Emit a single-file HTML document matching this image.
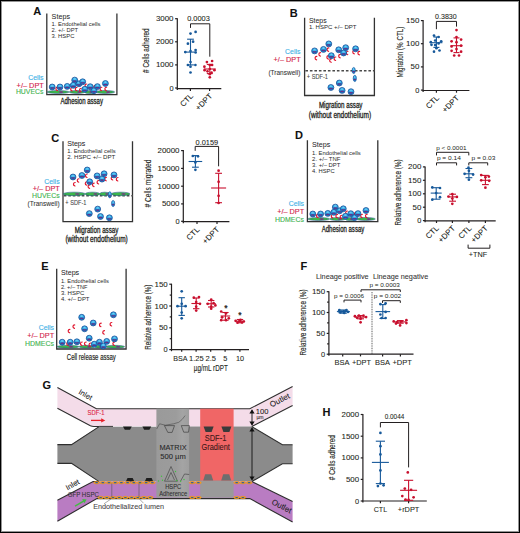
<!DOCTYPE html>
<html><head><meta charset="utf-8"><style>
html,body{margin:0;padding:0;background:#fff;}
body{width:520px;height:533px;position:relative;overflow:hidden;font-family:"Liberation Sans", sans-serif;}
svg text{font-family:"Liberation Sans", sans-serif;}
</style></head><body>
<div style="position:absolute;left:0;top:0;width:520px;height:533px;box-sizing:border-box;border:1px solid #000;z-index:5;pointer-events:none"></div>
<div style="position:absolute;left:1px;top:1px;width:518px;height:531px;box-sizing:border-box;border:1px solid rgba(0,0,0,0.42);z-index:5;pointer-events:none"></div>
<svg width="520" height="533" viewBox="0 0 520 533" style="position:absolute;left:0;top:0" font-family='"Liberation Sans", sans-serif'>
<defs>
<radialGradient id="cg" cx="0.5" cy="0.3" r="0.75">
<stop offset="0" stop-color="#74d2f6"/><stop offset="0.45" stop-color="#2aaae8"/><stop offset="1" stop-color="#1f92d8"/>
</radialGradient>
<g id="cell">
<circle r="2.95" fill="url(#cg)" stroke="#1b4a94" stroke-width="0.75"/>
<path d="M-1.95,0.7 Q0,0.0 1.95,0.7 Q1.7,1.75 0,1.8 Q-1.7,1.75 -1.95,0.7 Z" fill="#8a2a8c" stroke="#1e2c7c" stroke-width="0.4"/>
</g>
<path id="dpt" d="M1.2,-1.7 C-0.9,-1.7 -1.3,1.2 1.0,1.8" fill="none" stroke="#e0142c" stroke-width="1.15" stroke-linecap="round"/>
<linearGradient id="mg" x1="0" y1="0" x2="1" y2="0">
<stop offset="0" stop-color="#9a9a9a"/><stop offset="0.6" stop-color="#9c9c9c"/><stop offset="0.8" stop-color="#a4a4a4"/><stop offset="1" stop-color="#9e9e9e"/>
</linearGradient>
<linearGradient id="redg" x1="0" y1="0" x2="1" y2="0">
<stop offset="0" stop-color="#ef5a5a"/><stop offset="1" stop-color="#f06464"/>
</linearGradient>
</defs>
<rect x="0" y="0" width="520" height="533" fill="#fff"/>
<text x="33.30" y="15.00" font-size="11" fill="#111" font-weight="bold" style="stroke:#111;stroke-width:0.07">A</text>
<path d="M46.80,13.50 L46.80,94.60 L116.90,94.60 L116.90,13.50" fill="none" stroke="#333" stroke-width="1.3" stroke-linejoin="miter"/>
<text x="51.60" y="19.30" font-size="6.9" fill="#2a2a2a" textLength="18.4" lengthAdjust="spacingAndGlyphs" style="stroke:#2a2a2a;stroke-width:0.04">Steps</text>
<text x="51.60" y="26.00" font-size="6.1" fill="#2a2a2a" textLength="48.9" lengthAdjust="spacingAndGlyphs" style="stroke:none">1. Endothelial cells</text>
<text x="51.60" y="32.10" font-size="6.1" fill="#2a2a2a" textLength="26.5" lengthAdjust="spacingAndGlyphs" style="stroke:none">2. +/- DPT</text>
<text x="51.60" y="38.30" font-size="6.1" fill="#2a2a2a" textLength="22.8" lengthAdjust="spacingAndGlyphs" style="stroke:none">3. HSPC</text>
<text x="43.50" y="80.00" font-size="7.0" fill="#3cb0e6" text-anchor="end" textLength="15.3" lengthAdjust="spacingAndGlyphs" style="stroke:#3cb0e6;stroke-width:0.12">Cells</text>
<text x="43.80" y="87.50" font-size="7.0" fill="#d2234a" text-anchor="end" textLength="27.2" lengthAdjust="spacingAndGlyphs" style="stroke:#d2234a;stroke-width:0.12">+/– DPT</text>
<text x="43.50" y="94.30" font-size="7.0" fill="#3fb34f" text-anchor="end" textLength="27.6" lengthAdjust="spacingAndGlyphs" style="stroke:#3fb34f;stroke-width:0.12">HUVECs</text>
<ellipse cx="58.10" cy="92.00" rx="11.00" ry="1.55" fill="#3cb84a" stroke="#1e4a8a" stroke-width="0.5"/>
<ellipse cx="77.00" cy="92.00" rx="7.80" ry="1.55" fill="#3cb84a" stroke="#1e4a8a" stroke-width="0.5"/>
<ellipse cx="90.00" cy="92.00" rx="5.40" ry="1.55" fill="#3cb84a" stroke="#1e4a8a" stroke-width="0.5"/>
<ellipse cx="105.10" cy="92.00" rx="9.60" ry="1.55" fill="#3cb84a" stroke="#1e4a8a" stroke-width="0.5"/>
<ellipse cx="61.10" cy="92.10" rx="2.40" ry="0.78" fill="#7a2c8a"/>
<ellipse cx="79.20" cy="92.10" rx="2.00" ry="0.78" fill="#7a2c8a"/>
<ellipse cx="90.80" cy="92.10" rx="1.60" ry="0.78" fill="#7a2c8a"/>
<ellipse cx="108.10" cy="92.10" rx="2.30" ry="0.78" fill="#7a2c8a"/>
<use href="#dpt" transform="translate(56.40 88.80) rotate(0)"/>
<use href="#dpt" transform="translate(71.20 89.20) rotate(0)"/>
<use href="#dpt" transform="translate(75.80 89.00) rotate(0)"/>
<use href="#dpt" transform="translate(80.10 89.90) rotate(0)"/>
<use href="#dpt" transform="translate(85.60 85.70) rotate(0)"/>
<use href="#dpt" transform="translate(94.30 87.00) rotate(0)"/>
<use href="#dpt" transform="translate(100.60 88.90) rotate(0)"/>
<use href="#dpt" transform="translate(105.40 88.90) rotate(0)"/>
<use href="#cell" x="52.20" y="87.00"/>
<use href="#cell" x="60.00" y="87.00"/>
<use href="#cell" x="67.20" y="86.40"/>
<use href="#cell" x="74.70" y="80.10"/>
<use href="#cell" x="73.20" y="85.30"/>
<use href="#cell" x="79.00" y="83.80"/>
<use href="#cell" x="82.70" y="81.80"/>
<use href="#cell" x="84.80" y="89.30"/>
<use href="#cell" x="90.20" y="86.70"/>
<use href="#cell" x="94.00" y="90.70"/>
<use href="#cell" x="97.40" y="86.60"/>
<use href="#cell" x="105.40" y="83.50"/>
<text x="81.70" y="104.40" font-size="8.2" fill="#231f20" text-anchor="middle" textLength="42.5" lengthAdjust="spacingAndGlyphs" style="stroke:#231f20;stroke-width:0.3">Adhesion assay</text>
<line x1="177.30" y1="18.20" x2="177.30" y2="90.00" stroke="#231f20" stroke-width="1.2"/>
<line x1="175.10" y1="18.70" x2="177.30" y2="18.70" stroke="#231f20" stroke-width="1.2"/>
<text x="173.50" y="21.20" font-size="7.4" fill="#231f20" text-anchor="end" textLength="17.6" lengthAdjust="spacingAndGlyphs" style="stroke:#231f20;stroke-width:0.07">3000</text>
<line x1="175.10" y1="41.80" x2="177.30" y2="41.80" stroke="#231f20" stroke-width="1.2"/>
<text x="173.50" y="44.30" font-size="7.4" fill="#231f20" text-anchor="end" textLength="17.6" lengthAdjust="spacingAndGlyphs" style="stroke:#231f20;stroke-width:0.07">2000</text>
<line x1="175.10" y1="64.90" x2="177.30" y2="64.90" stroke="#231f20" stroke-width="1.2"/>
<text x="173.50" y="67.40" font-size="7.4" fill="#231f20" text-anchor="end" textLength="17.6" lengthAdjust="spacingAndGlyphs" style="stroke:#231f20;stroke-width:0.07">1000</text>
<line x1="175.10" y1="88.00" x2="177.30" y2="88.00" stroke="#231f20" stroke-width="1.2"/>
<text x="173.50" y="90.50" font-size="7.4" fill="#231f20" text-anchor="end" style="stroke:#231f20;stroke-width:0.07">0</text>
<line x1="176.80" y1="88.70" x2="221.30" y2="88.70" stroke="#231f20" stroke-width="1.2"/>
<line x1="190.40" y1="88.70" x2="190.40" y2="90.90" stroke="#231f20" stroke-width="1.2"/>
<line x1="209.60" y1="88.70" x2="209.60" y2="90.90" stroke="#231f20" stroke-width="1.2"/>
<path d="M190.50,27.90 L190.50,23.80 L209.80,23.80 L209.80,56.70" fill="none" stroke="#231f20" stroke-width="1.0" />
<text x="198.50" y="21.30" font-size="6.6" fill="#231f20" text-anchor="middle" textLength="22.6" lengthAdjust="spacingAndGlyphs" style="stroke:#231f20;stroke-width:0.07">0.0003</text>
<line x1="190.50" y1="39.20" x2="190.50" y2="64.90" stroke="#17599a" stroke-width="1.1"/>
<line x1="187.10" y1="39.20" x2="193.90" y2="39.20" stroke="#17599a" stroke-width="1.1"/>
<line x1="187.10" y1="64.90" x2="193.90" y2="64.90" stroke="#17599a" stroke-width="1.1"/>
<line x1="184.30" y1="52.10" x2="196.70" y2="52.10" stroke="#17599a" stroke-width="1.1"/>
<circle cx="190.50" cy="33.60" r="1.35" fill="#17599a"/>
<circle cx="195.60" cy="31.90" r="1.35" fill="#17599a"/>
<circle cx="187.90" cy="43.70" r="1.35" fill="#17599a"/>
<circle cx="193.10" cy="41.70" r="1.35" fill="#17599a"/>
<circle cx="185.30" cy="52.10" r="1.35" fill="#17599a"/>
<circle cx="190.50" cy="51.00" r="1.35" fill="#17599a"/>
<circle cx="195.60" cy="50.00" r="1.35" fill="#17599a"/>
<circle cx="195.60" cy="52.50" r="1.35" fill="#17599a"/>
<circle cx="190.50" cy="62.10" r="1.35" fill="#17599a"/>
<circle cx="187.90" cy="65.00" r="1.35" fill="#17599a"/>
<circle cx="195.40" cy="65.00" r="1.35" fill="#17599a"/>
<circle cx="190.50" cy="66.70" r="1.35" fill="#17599a"/>
<circle cx="190.50" cy="72.50" r="1.35" fill="#17599a"/>
<line x1="209.80" y1="64.40" x2="209.80" y2="73.60" stroke="#c8102e" stroke-width="1.1"/>
<line x1="206.80" y1="64.40" x2="212.80" y2="64.40" stroke="#c8102e" stroke-width="1.1"/>
<line x1="206.80" y1="73.60" x2="212.80" y2="73.60" stroke="#c8102e" stroke-width="1.1"/>
<line x1="203.80" y1="69.00" x2="215.80" y2="69.00" stroke="#c8102e" stroke-width="1.1"/>
<circle cx="206.90" cy="62.10" r="1.35" fill="#c8102e"/>
<circle cx="212.10" cy="61.00" r="1.35" fill="#c8102e"/>
<circle cx="209.80" cy="65.00" r="1.35" fill="#c8102e"/>
<circle cx="204.40" cy="66.70" r="1.35" fill="#c8102e"/>
<circle cx="212.10" cy="65.00" r="1.35" fill="#c8102e"/>
<circle cx="209.80" cy="69.00" r="1.35" fill="#c8102e"/>
<circle cx="204.60" cy="70.20" r="1.35" fill="#c8102e"/>
<circle cx="214.40" cy="70.20" r="1.35" fill="#c8102e"/>
<circle cx="207.50" cy="71.30" r="1.35" fill="#c8102e"/>
<circle cx="211.50" cy="72.50" r="1.35" fill="#c8102e"/>
<circle cx="209.80" cy="74.20" r="1.35" fill="#c8102e"/>
<circle cx="209.80" cy="77.30" r="1.35" fill="#c8102e"/>
<text x="149.30" y="50.65" font-size="8.6" fill="#231f20" text-anchor="middle" textLength="44.5" lengthAdjust="spacingAndGlyphs" transform="rotate(-90 149.30 50.65)" style="stroke:#231f20;stroke-width:0.12"># Cells adhered</text>
<text x="193.70" y="96.70" font-size="7.9" fill="#231f20" text-anchor="end" transform="rotate(-45 193.70 96.70)" style="stroke:#231f20;stroke-width:0.07">CTL</text>
<text x="212.90" y="96.70" font-size="7.9" fill="#231f20" text-anchor="end" transform="rotate(-45 212.90 96.70)" style="stroke:#231f20;stroke-width:0.07">+DPT</text>
<text x="289.80" y="16.60" font-size="11" fill="#111" font-weight="bold" style="stroke:#111;stroke-width:0.07">B</text>
<path d="M304.60,17.70 L304.60,95.50 L374.40,95.50 L374.40,17.70" fill="none" stroke="#333" stroke-width="1.3" stroke-linejoin="miter"/>
<text x="308.90" y="22.70" font-size="6.9" fill="#2a2a2a" textLength="17.7" lengthAdjust="spacingAndGlyphs" style="stroke:#2a2a2a;stroke-width:0.04">Steps</text>
<text x="308.90" y="29.30" font-size="6.1" fill="#2a2a2a" textLength="47.6" lengthAdjust="spacingAndGlyphs" style="stroke:none">1. HSPC +/– DPT</text>
<line x1="305.40" y1="70.80" x2="374.60" y2="70.80" stroke="#4a4a4a" stroke-width="1.45" stroke-dasharray="2.6 1.9"/>
<use href="#dpt" transform="translate(319.40 54.30) rotate(0)"/>
<use href="#dpt" transform="translate(315.60 58.10) rotate(0)"/>
<use href="#dpt" transform="translate(327.60 49.60) rotate(0)"/>
<use href="#dpt" transform="translate(330.20 60.50) rotate(0)"/>
<use href="#dpt" transform="translate(334.60 58.70) rotate(0)"/>
<use href="#dpt" transform="translate(339.20 56.10) rotate(0)"/>
<use href="#dpt" transform="translate(346.80 52.90) rotate(0)"/>
<use href="#dpt" transform="translate(353.30 52.10) rotate(0)"/>
<use href="#dpt" transform="translate(358.40 53.10) rotate(0)"/>
<use href="#dpt" transform="translate(327.40 57.30) rotate(0)"/>
<use href="#cell" x="314.60" y="50.90"/>
<use href="#cell" x="323.50" y="49.40"/>
<use href="#cell" x="328.80" y="43.90"/>
<use href="#cell" x="331.30" y="55.70"/>
<use href="#cell" x="338.70" y="49.80"/>
<use href="#cell" x="345.70" y="47.70"/>
<use href="#cell" x="343.60" y="53.00"/>
<use href="#cell" x="355.60" y="48.80"/>
<use href="#cell" x="330.90" y="87.50"/>
<use href="#cell" x="339.30" y="83.00"/>
<use href="#cell" x="342.10" y="90.40"/>
<use href="#cell" x="351.00" y="91.70"/>
<g transform="translate(353.70 70.50) scale(0.55 1.05)"><use href="#cell"/></g>
<g transform="translate(354.80 78.40) scale(0.55 1.05)"><use href="#cell"/></g>
<text x="300.40" y="54.00" font-size="7.0" fill="#3cb0e6" text-anchor="end" textLength="15.3" lengthAdjust="spacingAndGlyphs" style="stroke:#3cb0e6;stroke-width:0.12">Cells</text>
<text x="300.60" y="62.00" font-size="7.0" fill="#d2234a" text-anchor="end" textLength="27.0" lengthAdjust="spacingAndGlyphs" style="stroke:#d2234a;stroke-width:0.12">+/– DPT</text>
<text x="300.40" y="74.80" font-size="7.2" fill="#333" text-anchor="end" textLength="32" lengthAdjust="spacingAndGlyphs" style="stroke:#333;stroke-width:0.07">(Transwell)</text>
<text x="306.80" y="78.50" font-size="6.3" fill="#444" textLength="21.2" lengthAdjust="spacingAndGlyphs" style="stroke:#444;stroke-width:0.07">+ SDF-1</text>
<text x="340.70" y="108.40" font-size="8.2" fill="#231f20" text-anchor="middle" textLength="43.6" lengthAdjust="spacingAndGlyphs" style="stroke:#231f20;stroke-width:0.3">Migration assay</text>
<text x="339.90" y="118.00" font-size="8.2" fill="#231f20" text-anchor="middle" textLength="62.3" lengthAdjust="spacingAndGlyphs" style="stroke:#231f20;stroke-width:0.3">(without endothelium)</text>
<line x1="423.10" y1="20.10" x2="423.10" y2="92.10" stroke="#231f20" stroke-width="1.2"/>
<line x1="420.90" y1="20.60" x2="423.10" y2="20.60" stroke="#231f20" stroke-width="1.2"/>
<text x="419.30" y="23.10" font-size="7.4" fill="#231f20" text-anchor="end" textLength="13.2" lengthAdjust="spacingAndGlyphs" style="stroke:#231f20;stroke-width:0.07">150</text>
<line x1="420.90" y1="43.70" x2="423.10" y2="43.70" stroke="#231f20" stroke-width="1.2"/>
<text x="419.30" y="46.20" font-size="7.4" fill="#231f20" text-anchor="end" textLength="13.2" lengthAdjust="spacingAndGlyphs" style="stroke:#231f20;stroke-width:0.07">100</text>
<line x1="420.90" y1="66.90" x2="423.10" y2="66.90" stroke="#231f20" stroke-width="1.2"/>
<text x="419.30" y="69.40" font-size="7.4" fill="#231f20" text-anchor="end" textLength="8.8" lengthAdjust="spacingAndGlyphs" style="stroke:#231f20;stroke-width:0.07">50</text>
<line x1="420.90" y1="90.10" x2="423.10" y2="90.10" stroke="#231f20" stroke-width="1.2"/>
<text x="419.30" y="92.60" font-size="7.4" fill="#231f20" text-anchor="end" style="stroke:#231f20;stroke-width:0.07">0</text>
<line x1="422.60" y1="90.50" x2="469.40" y2="90.50" stroke="#231f20" stroke-width="1.2"/>
<line x1="436.40" y1="90.50" x2="436.40" y2="92.70" stroke="#231f20" stroke-width="1.2"/>
<line x1="456.50" y1="90.50" x2="456.50" y2="92.70" stroke="#231f20" stroke-width="1.2"/>
<path d="M436.40,29.20 L436.40,21.40 L456.50,21.40 L456.50,26.60" fill="none" stroke="#231f20" stroke-width="1.0" />
<text x="445.90" y="18.80" font-size="6.6" fill="#231f20" text-anchor="middle" textLength="21.6" lengthAdjust="spacingAndGlyphs" style="stroke:#231f20;stroke-width:0.07">0.3830</text>
<line x1="436.40" y1="37.00" x2="436.40" y2="47.40" stroke="#17599a" stroke-width="1.1"/>
<line x1="433.40" y1="37.00" x2="439.40" y2="37.00" stroke="#17599a" stroke-width="1.1"/>
<line x1="433.40" y1="47.40" x2="439.40" y2="47.40" stroke="#17599a" stroke-width="1.1"/>
<line x1="430.40" y1="42.70" x2="442.40" y2="42.70" stroke="#17599a" stroke-width="1.1"/>
<circle cx="434.00" cy="35.60" r="1.35" fill="#17599a"/>
<circle cx="438.60" cy="37.00" r="1.35" fill="#17599a"/>
<circle cx="430.80" cy="42.20" r="1.35" fill="#17599a"/>
<circle cx="435.20" cy="40.50" r="1.35" fill="#17599a"/>
<circle cx="441.20" cy="41.30" r="1.35" fill="#17599a"/>
<circle cx="438.60" cy="43.40" r="1.35" fill="#17599a"/>
<circle cx="435.20" cy="45.10" r="1.35" fill="#17599a"/>
<circle cx="431.50" cy="44.80" r="1.35" fill="#17599a"/>
<circle cx="434.00" cy="51.70" r="1.35" fill="#17599a"/>
<circle cx="439.50" cy="50.50" r="1.35" fill="#17599a"/>
<circle cx="436.40" cy="48.20" r="1.35" fill="#17599a"/>
<line x1="456.50" y1="37.90" x2="456.50" y2="52.60" stroke="#c8102e" stroke-width="1.1"/>
<line x1="453.50" y1="37.90" x2="459.50" y2="37.90" stroke="#c8102e" stroke-width="1.1"/>
<line x1="453.50" y1="52.60" x2="459.50" y2="52.60" stroke="#c8102e" stroke-width="1.1"/>
<line x1="450.50" y1="45.70" x2="462.50" y2="45.70" stroke="#c8102e" stroke-width="1.1"/>
<circle cx="456.50" cy="30.10" r="1.35" fill="#c8102e"/>
<circle cx="456.50" cy="37.00" r="1.35" fill="#c8102e"/>
<circle cx="451.60" cy="41.30" r="1.35" fill="#c8102e"/>
<circle cx="461.10" cy="39.60" r="1.35" fill="#c8102e"/>
<circle cx="456.50" cy="42.20" r="1.35" fill="#c8102e"/>
<circle cx="451.60" cy="46.50" r="1.35" fill="#c8102e"/>
<circle cx="461.10" cy="45.70" r="1.35" fill="#c8102e"/>
<circle cx="456.50" cy="49.10" r="1.35" fill="#c8102e"/>
<circle cx="451.60" cy="50.80" r="1.35" fill="#c8102e"/>
<circle cx="461.10" cy="51.70" r="1.35" fill="#c8102e"/>
<circle cx="454.20" cy="55.50" r="1.35" fill="#c8102e"/>
<circle cx="459.00" cy="55.50" r="1.35" fill="#c8102e"/>
<text x="402.60" y="52.10" font-size="8.2" fill="#231f20" text-anchor="middle" textLength="51.0" lengthAdjust="spacingAndGlyphs" transform="rotate(-90 402.60 52.10)" style="stroke:#231f20;stroke-width:0.12">Migration (% CTL)</text>
<text x="439.50" y="98.60" font-size="7.9" fill="#231f20" text-anchor="end" transform="rotate(-45 439.50 98.60)" style="stroke:#231f20;stroke-width:0.07">CTL</text>
<text x="459.60" y="98.60" font-size="7.9" fill="#231f20" text-anchor="end" transform="rotate(-45 459.60 98.60)" style="stroke:#231f20;stroke-width:0.07">+DPT</text>
<text x="51.20" y="142.00" font-size="11" fill="#111" font-weight="bold" style="stroke:#111;stroke-width:0.07">C</text>
<path d="M63.00,141.30 L63.00,221.60 L132.50,221.60 L132.50,141.30" fill="none" stroke="#333" stroke-width="1.3" stroke-linejoin="miter"/>
<text x="67.20" y="146.40" font-size="6.9" fill="#2a2a2a" textLength="18.2" lengthAdjust="spacingAndGlyphs" style="stroke:#2a2a2a;stroke-width:0.04">Steps</text>
<text x="67.20" y="152.50" font-size="6.1" fill="#2a2a2a" textLength="48.4" lengthAdjust="spacingAndGlyphs" style="stroke:none">1. Endothelial cells</text>
<text x="67.20" y="158.50" font-size="6.1" fill="#2a2a2a" textLength="48.1" lengthAdjust="spacingAndGlyphs" style="stroke:none">2. HSPC +/– DPT</text>
<line x1="63.80" y1="195.80" x2="133.00" y2="195.80" stroke="#4a4a4a" stroke-width="1.45" stroke-dasharray="2.6 1.9"/>
<ellipse cx="74.20" cy="193.90" rx="11.00" ry="1.75" fill="#3cb84a" stroke="#1e4a8a" stroke-width="0.5"/>
<ellipse cx="92.50" cy="193.90" rx="7.40" ry="1.75" fill="#3cb84a" stroke="#1e4a8a" stroke-width="0.5"/>
<ellipse cx="104.70" cy="193.90" rx="5.20" ry="1.75" fill="#3cb84a" stroke="#1e4a8a" stroke-width="0.5"/>
<ellipse cx="120.60" cy="193.90" rx="9.40" ry="1.75" fill="#3cb84a" stroke="#1e4a8a" stroke-width="0.5"/>
<ellipse cx="77.30" cy="194.00" rx="2.40" ry="0.7" fill="#7a2c8a"/>
<ellipse cx="95.40" cy="194.00" rx="2.00" ry="0.7" fill="#7a2c8a"/>
<ellipse cx="106.90" cy="194.00" rx="1.60" ry="0.7" fill="#7a2c8a"/>
<ellipse cx="123.50" cy="194.00" rx="2.30" ry="0.7" fill="#7a2c8a"/>
<use href="#dpt" transform="translate(77.80 180.40) rotate(0)"/>
<use href="#dpt" transform="translate(74.00 184.20) rotate(0)"/>
<use href="#dpt" transform="translate(86.00 175.70) rotate(0)"/>
<use href="#dpt" transform="translate(88.60 186.60) rotate(0)"/>
<use href="#dpt" transform="translate(93.00 184.80) rotate(0)"/>
<use href="#dpt" transform="translate(97.60 182.20) rotate(0)"/>
<use href="#dpt" transform="translate(105.20 179.00) rotate(0)"/>
<use href="#dpt" transform="translate(111.70 178.20) rotate(0)"/>
<use href="#dpt" transform="translate(116.80 179.20) rotate(0)"/>
<use href="#dpt" transform="translate(85.80 183.40) rotate(0)"/>
<use href="#cell" x="73.00" y="177.00"/>
<use href="#cell" x="81.90" y="175.50"/>
<use href="#cell" x="87.20" y="170.00"/>
<use href="#cell" x="89.70" y="181.80"/>
<use href="#cell" x="97.10" y="175.90"/>
<use href="#cell" x="104.10" y="173.80"/>
<use href="#cell" x="102.00" y="179.10"/>
<use href="#cell" x="114.00" y="174.90"/>
<use href="#cell" x="89.30" y="213.60"/>
<use href="#cell" x="97.70" y="209.10"/>
<use href="#cell" x="100.50" y="216.50"/>
<use href="#cell" x="109.40" y="217.80"/>
<g transform="translate(109.80 194.80) scale(0.55 1.05)"><use href="#cell"/></g>
<g transform="translate(113.10 203.50) scale(0.55 1.05)"><use href="#cell"/></g>
<text x="59.60" y="183.80" font-size="7.0" fill="#3cb0e6" text-anchor="end" textLength="15.3" lengthAdjust="spacingAndGlyphs" style="stroke:#3cb0e6;stroke-width:0.12">Cells</text>
<text x="59.80" y="190.80" font-size="7.0" fill="#d2234a" text-anchor="end" textLength="27.0" lengthAdjust="spacingAndGlyphs" style="stroke:#d2234a;stroke-width:0.12">+/– DPT</text>
<text x="59.60" y="198.30" font-size="7.0" fill="#3fb34f" text-anchor="end" textLength="27.6" lengthAdjust="spacingAndGlyphs" style="stroke:#3fb34f;stroke-width:0.12">HUVECs</text>
<text x="59.60" y="206.30" font-size="7.2" fill="#333" text-anchor="end" textLength="32" lengthAdjust="spacingAndGlyphs" style="stroke:#333;stroke-width:0.07">(Transwell)</text>
<text x="65.30" y="204.50" font-size="6.3" fill="#444" textLength="21.2" lengthAdjust="spacingAndGlyphs" style="stroke:#444;stroke-width:0.07">+ SDF-1</text>
<text x="96.60" y="232.50" font-size="8.2" fill="#231f20" text-anchor="middle" textLength="43.6" lengthAdjust="spacingAndGlyphs" style="stroke:#231f20;stroke-width:0.3">Migration assay</text>
<text x="96.60" y="242.00" font-size="8.2" fill="#231f20" text-anchor="middle" textLength="62.3" lengthAdjust="spacingAndGlyphs" style="stroke:#231f20;stroke-width:0.3">(without endothelium)</text>
<line x1="183.30" y1="150.10" x2="183.30" y2="223.20" stroke="#231f20" stroke-width="1.2"/>
<line x1="181.10" y1="150.60" x2="183.30" y2="150.60" stroke="#231f20" stroke-width="1.2"/>
<text x="179.50" y="153.10" font-size="7.4" fill="#231f20" text-anchor="end" textLength="22.0" lengthAdjust="spacingAndGlyphs" style="stroke:#231f20;stroke-width:0.07">20000</text>
<line x1="181.10" y1="168.40" x2="183.30" y2="168.40" stroke="#231f20" stroke-width="1.2"/>
<text x="179.50" y="170.90" font-size="7.4" fill="#231f20" text-anchor="end" textLength="22.0" lengthAdjust="spacingAndGlyphs" style="stroke:#231f20;stroke-width:0.07">15000</text>
<line x1="181.10" y1="186.20" x2="183.30" y2="186.20" stroke="#231f20" stroke-width="1.2"/>
<text x="179.50" y="188.70" font-size="7.4" fill="#231f20" text-anchor="end" textLength="22.0" lengthAdjust="spacingAndGlyphs" style="stroke:#231f20;stroke-width:0.07">10000</text>
<line x1="181.10" y1="203.90" x2="183.30" y2="203.90" stroke="#231f20" stroke-width="1.2"/>
<text x="179.50" y="206.40" font-size="7.4" fill="#231f20" text-anchor="end" textLength="17.6" lengthAdjust="spacingAndGlyphs" style="stroke:#231f20;stroke-width:0.07">5000</text>
<line x1="181.10" y1="221.30" x2="183.30" y2="221.30" stroke="#231f20" stroke-width="1.2"/>
<text x="179.50" y="223.80" font-size="7.4" fill="#231f20" text-anchor="end" style="stroke:#231f20;stroke-width:0.07">0</text>
<line x1="182.80" y1="221.70" x2="229.40" y2="221.70" stroke="#231f20" stroke-width="1.2"/>
<line x1="197.00" y1="221.70" x2="197.00" y2="223.90" stroke="#231f20" stroke-width="1.2"/>
<line x1="217.00" y1="221.70" x2="217.00" y2="223.90" stroke="#231f20" stroke-width="1.2"/>
<path d="M195.20,150.80 L195.20,146.40 L218.60,146.40 L218.60,166.30" fill="none" stroke="#231f20" stroke-width="1.0" />
<text x="206.90" y="144.70" font-size="6.6" fill="#231f20" text-anchor="middle" textLength="22.6" lengthAdjust="spacingAndGlyphs" style="stroke:#231f20;stroke-width:0.07">0.0159</text>
<line x1="195.40" y1="155.60" x2="195.40" y2="167.20" stroke="#17599a" stroke-width="1.1"/>
<line x1="192.00" y1="155.60" x2="198.80" y2="155.60" stroke="#17599a" stroke-width="1.1"/>
<line x1="192.00" y1="167.20" x2="198.80" y2="167.20" stroke="#17599a" stroke-width="1.1"/>
<line x1="188.60" y1="161.50" x2="202.20" y2="161.50" stroke="#17599a" stroke-width="1.1"/>
<circle cx="192.80" cy="156.00" r="1.35" fill="#17599a"/>
<circle cx="198.00" cy="156.30" r="1.35" fill="#17599a"/>
<circle cx="195.40" cy="162.50" r="1.35" fill="#17599a"/>
<circle cx="195.40" cy="169.80" r="1.35" fill="#17599a"/>
<line x1="218.60" y1="173.30" x2="218.60" y2="202.70" stroke="#c8102e" stroke-width="1.1"/>
<line x1="215.20" y1="173.30" x2="222.00" y2="173.30" stroke="#c8102e" stroke-width="1.1"/>
<line x1="215.20" y1="202.70" x2="222.00" y2="202.70" stroke="#c8102e" stroke-width="1.1"/>
<line x1="211.10" y1="188.00" x2="226.10" y2="188.00" stroke="#c8102e" stroke-width="1.1"/>
<circle cx="218.60" cy="170.70" r="1.35" fill="#c8102e"/>
<circle cx="218.60" cy="181.80" r="1.35" fill="#c8102e"/>
<circle cx="218.60" cy="195.80" r="1.35" fill="#c8102e"/>
<circle cx="218.60" cy="203.00" r="1.35" fill="#c8102e"/>
<text x="150.70" y="183.50" font-size="8.6" fill="#231f20" text-anchor="middle" textLength="47.9" lengthAdjust="spacingAndGlyphs" transform="rotate(-90 150.70 183.50)" style="stroke:#231f20;stroke-width:0.12"># Cells migrated</text>
<text x="200.10" y="230.20" font-size="7.9" fill="#231f20" text-anchor="end" transform="rotate(-45 200.10 230.20)" style="stroke:#231f20;stroke-width:0.07">CTL</text>
<text x="219.90" y="230.20" font-size="7.9" fill="#231f20" text-anchor="end" transform="rotate(-45 219.90 230.20)" style="stroke:#231f20;stroke-width:0.07">+DPT</text>
<text x="295.00" y="139.40" font-size="11" fill="#111" font-weight="bold" style="stroke:#111;stroke-width:0.07">D</text>
<path d="M307.40,140.20 L307.40,221.60 L377.80,221.60 L377.80,140.20" fill="none" stroke="#333" stroke-width="1.3" stroke-linejoin="miter"/>
<text x="312.10" y="146.80" font-size="6.9" fill="#2a2a2a" textLength="18.3" lengthAdjust="spacingAndGlyphs" style="stroke:#2a2a2a;stroke-width:0.04">Steps</text>
<text x="312.10" y="155.00" font-size="6.1" fill="#2a2a2a" textLength="48.7" lengthAdjust="spacingAndGlyphs" style="stroke:none">1. Endothelial cells</text>
<text x="312.10" y="160.90" font-size="6.1" fill="#2a2a2a" textLength="28.3" lengthAdjust="spacingAndGlyphs" style="stroke:none">2. +/– TNF</text>
<text x="312.10" y="166.80" font-size="6.1" fill="#2a2a2a" textLength="28.3" lengthAdjust="spacingAndGlyphs" style="stroke:none">3. +/– DPT</text>
<text x="312.10" y="173.00" font-size="6.1" fill="#2a2a2a" textLength="22.6" lengthAdjust="spacingAndGlyphs" style="stroke:none">4. HSPC</text>
<ellipse cx="318.70" cy="219.00" rx="11.00" ry="1.55" fill="#3cb84a" stroke="#1e4a8a" stroke-width="0.5"/>
<ellipse cx="337.60" cy="219.00" rx="7.80" ry="1.55" fill="#3cb84a" stroke="#1e4a8a" stroke-width="0.5"/>
<ellipse cx="350.60" cy="219.00" rx="5.40" ry="1.55" fill="#3cb84a" stroke="#1e4a8a" stroke-width="0.5"/>
<ellipse cx="365.70" cy="219.00" rx="9.60" ry="1.55" fill="#3cb84a" stroke="#1e4a8a" stroke-width="0.5"/>
<ellipse cx="321.70" cy="219.10" rx="2.40" ry="0.78" fill="#7a2c8a"/>
<ellipse cx="339.80" cy="219.10" rx="2.00" ry="0.78" fill="#7a2c8a"/>
<ellipse cx="351.40" cy="219.10" rx="1.60" ry="0.78" fill="#7a2c8a"/>
<ellipse cx="368.70" cy="219.10" rx="2.30" ry="0.78" fill="#7a2c8a"/>
<use href="#dpt" transform="translate(317.00 215.80) rotate(0)"/>
<use href="#dpt" transform="translate(331.80 216.20) rotate(0)"/>
<use href="#dpt" transform="translate(336.40 216.00) rotate(0)"/>
<use href="#dpt" transform="translate(340.70 216.90) rotate(0)"/>
<use href="#dpt" transform="translate(346.20 212.70) rotate(0)"/>
<use href="#dpt" transform="translate(354.90 214.00) rotate(0)"/>
<use href="#dpt" transform="translate(361.20 215.90) rotate(0)"/>
<use href="#dpt" transform="translate(366.00 215.90) rotate(0)"/>
<use href="#cell" x="312.80" y="214.00"/>
<use href="#cell" x="320.60" y="214.00"/>
<use href="#cell" x="327.80" y="213.40"/>
<use href="#cell" x="335.30" y="207.10"/>
<use href="#cell" x="333.80" y="212.30"/>
<use href="#cell" x="339.60" y="210.80"/>
<use href="#cell" x="343.30" y="208.80"/>
<use href="#cell" x="345.40" y="216.30"/>
<use href="#cell" x="350.80" y="213.70"/>
<use href="#cell" x="354.60" y="217.70"/>
<use href="#cell" x="358.00" y="213.60"/>
<use href="#cell" x="366.00" y="210.50"/>
<text x="304.00" y="206.10" font-size="7.0" fill="#3cb0e6" text-anchor="end" textLength="15.3" lengthAdjust="spacingAndGlyphs" style="stroke:#3cb0e6;stroke-width:0.12">Cells</text>
<text x="304.20" y="214.20" font-size="7.0" fill="#d2234a" text-anchor="end" textLength="27.0" lengthAdjust="spacingAndGlyphs" style="stroke:#d2234a;stroke-width:0.12">+/– DPT</text>
<text x="304.00" y="221.50" font-size="7.0" fill="#3fb34f" text-anchor="end" textLength="29.0" lengthAdjust="spacingAndGlyphs" style="stroke:#3fb34f;stroke-width:0.12">HDMECs</text>
<text x="343.00" y="231.70" font-size="8.2" fill="#231f20" text-anchor="middle" textLength="42.5" lengthAdjust="spacingAndGlyphs" style="stroke:#231f20;stroke-width:0.3">Adhesion assay</text>
<line x1="425.10" y1="166.40" x2="425.10" y2="222.20" stroke="#231f20" stroke-width="1.2"/>
<line x1="422.90" y1="166.90" x2="425.10" y2="166.90" stroke="#231f20" stroke-width="1.2"/>
<text x="421.30" y="169.40" font-size="7.4" fill="#231f20" text-anchor="end" textLength="13.2" lengthAdjust="spacingAndGlyphs" style="stroke:#231f20;stroke-width:0.07">200</text>
<line x1="422.90" y1="180.30" x2="425.10" y2="180.30" stroke="#231f20" stroke-width="1.2"/>
<text x="421.30" y="182.80" font-size="7.4" fill="#231f20" text-anchor="end" textLength="13.2" lengthAdjust="spacingAndGlyphs" style="stroke:#231f20;stroke-width:0.07">150</text>
<line x1="422.90" y1="193.80" x2="425.10" y2="193.80" stroke="#231f20" stroke-width="1.2"/>
<text x="421.30" y="196.30" font-size="7.4" fill="#231f20" text-anchor="end" textLength="13.2" lengthAdjust="spacingAndGlyphs" style="stroke:#231f20;stroke-width:0.07">100</text>
<line x1="422.90" y1="207.20" x2="425.10" y2="207.20" stroke="#231f20" stroke-width="1.2"/>
<text x="421.30" y="209.70" font-size="7.4" fill="#231f20" text-anchor="end" textLength="8.8" lengthAdjust="spacingAndGlyphs" style="stroke:#231f20;stroke-width:0.07">50</text>
<line x1="422.90" y1="220.60" x2="425.10" y2="220.60" stroke="#231f20" stroke-width="1.2"/>
<text x="421.30" y="223.10" font-size="7.4" fill="#231f20" text-anchor="end" style="stroke:#231f20;stroke-width:0.07">0</text>
<line x1="424.60" y1="220.80" x2="495.70" y2="220.80" stroke="#231f20" stroke-width="1.2"/>
<line x1="436.50" y1="220.80" x2="436.50" y2="223.00" stroke="#231f20" stroke-width="1.2"/>
<line x1="452.40" y1="220.80" x2="452.40" y2="223.00" stroke="#231f20" stroke-width="1.2"/>
<line x1="468.90" y1="220.80" x2="468.90" y2="223.00" stroke="#231f20" stroke-width="1.2"/>
<line x1="485.40" y1="220.80" x2="485.40" y2="223.00" stroke="#231f20" stroke-width="1.2"/>
<text x="436.20" y="149.50" font-size="5.9" fill="#231f20" textLength="30.3" lengthAdjust="spacingAndGlyphs" style="stroke:none">p &lt; 0.0001</text>
<path d="M436.50,155.40 L436.50,152.30 L468.80,152.30 L468.80,155.40" fill="none" stroke="#231f20" stroke-width="1.0" />
<text x="436.90" y="160.30" font-size="5.9" fill="#231f20" textLength="23.9" lengthAdjust="spacingAndGlyphs" style="stroke:none">p = 0.14</text>
<path d="M436.50,165.40 L436.50,162.80 L456.60,162.80 L456.60,165.40" fill="none" stroke="#231f20" stroke-width="1.0" />
<text x="471.50" y="160.30" font-size="5.9" fill="#231f20" textLength="23.9" lengthAdjust="spacingAndGlyphs" style="stroke:none">p = 0.03</text>
<path d="M468.80,165.40 L468.80,162.80 L487.70,162.80 L487.70,165.40" fill="none" stroke="#231f20" stroke-width="1.0" />
<line x1="436.20" y1="187.70" x2="436.20" y2="199.20" stroke="#17599a" stroke-width="1.1"/>
<line x1="432.00" y1="187.70" x2="440.40" y2="187.70" stroke="#17599a" stroke-width="1.1"/>
<line x1="432.00" y1="199.20" x2="440.40" y2="199.20" stroke="#17599a" stroke-width="1.1"/>
<line x1="430.70" y1="193.10" x2="441.70" y2="193.10" stroke="#17599a" stroke-width="1.1"/>
<circle cx="432.30" cy="187.40" r="1.35" fill="#17599a"/>
<circle cx="440.00" cy="188.00" r="1.35" fill="#17599a"/>
<circle cx="436.20" cy="193.10" r="1.35" fill="#17599a"/>
<circle cx="432.30" cy="199.70" r="1.35" fill="#17599a"/>
<circle cx="440.00" cy="197.20" r="1.35" fill="#17599a"/>
<line x1="452.60" y1="194.20" x2="452.60" y2="201.20" stroke="#c8102e" stroke-width="1.1"/>
<line x1="449.20" y1="194.20" x2="456.00" y2="194.20" stroke="#c8102e" stroke-width="1.1"/>
<line x1="449.20" y1="201.20" x2="456.00" y2="201.20" stroke="#c8102e" stroke-width="1.1"/>
<line x1="447.60" y1="196.90" x2="457.60" y2="196.90" stroke="#c8102e" stroke-width="1.1"/>
<circle cx="448.50" cy="196.50" r="1.35" fill="#c8102e"/>
<circle cx="452.30" cy="194.20" r="1.35" fill="#c8102e"/>
<circle cx="456.90" cy="196.90" r="1.35" fill="#c8102e"/>
<circle cx="452.30" cy="198.50" r="1.35" fill="#c8102e"/>
<circle cx="452.30" cy="203.80" r="1.35" fill="#c8102e"/>
<line x1="468.90" y1="168.50" x2="468.90" y2="177.70" stroke="#17599a" stroke-width="1.1"/>
<line x1="465.50" y1="168.50" x2="472.30" y2="168.50" stroke="#17599a" stroke-width="1.1"/>
<line x1="465.50" y1="177.70" x2="472.30" y2="177.70" stroke="#17599a" stroke-width="1.1"/>
<line x1="463.90" y1="173.80" x2="473.90" y2="173.80" stroke="#17599a" stroke-width="1.1"/>
<circle cx="468.50" cy="167.70" r="1.35" fill="#17599a"/>
<circle cx="464.60" cy="173.80" r="1.35" fill="#17599a"/>
<circle cx="473.10" cy="174.60" r="1.35" fill="#17599a"/>
<circle cx="468.90" cy="170.80" r="1.35" fill="#17599a"/>
<circle cx="468.90" cy="179.70" r="1.35" fill="#17599a"/>
<line x1="485.40" y1="175.40" x2="485.40" y2="184.60" stroke="#c8102e" stroke-width="1.1"/>
<line x1="482.00" y1="175.40" x2="488.80" y2="175.40" stroke="#c8102e" stroke-width="1.1"/>
<line x1="482.00" y1="184.60" x2="488.80" y2="184.60" stroke="#c8102e" stroke-width="1.1"/>
<line x1="480.40" y1="180.30" x2="490.40" y2="180.30" stroke="#c8102e" stroke-width="1.1"/>
<circle cx="481.20" cy="175.10" r="1.35" fill="#c8102e"/>
<circle cx="488.90" cy="176.60" r="1.35" fill="#c8102e"/>
<circle cx="485.40" cy="177.20" r="1.35" fill="#c8102e"/>
<circle cx="481.20" cy="180.30" r="1.35" fill="#c8102e"/>
<circle cx="489.20" cy="180.80" r="1.35" fill="#c8102e"/>
<circle cx="485.40" cy="187.70" r="1.35" fill="#c8102e"/>
<text x="400.80" y="192.50" font-size="8.6" fill="#231f20" text-anchor="middle" textLength="66.1" lengthAdjust="spacingAndGlyphs" transform="rotate(-90 400.80 192.50)" style="stroke:#231f20;stroke-width:0.12">Relative adherence (%)</text>
<text x="439.30" y="228.80" font-size="7.9" fill="#231f20" text-anchor="end" transform="rotate(-45 439.30 228.80)" style="stroke:#231f20;stroke-width:0.07">CTL</text>
<text x="455.70" y="228.80" font-size="7.9" fill="#231f20" text-anchor="end" transform="rotate(-45 455.70 228.80)" style="stroke:#231f20;stroke-width:0.07">+DPT</text>
<text x="472.00" y="228.80" font-size="7.9" fill="#231f20" text-anchor="end" transform="rotate(-45 472.00 228.80)" style="stroke:#231f20;stroke-width:0.07">CTL</text>
<text x="488.50" y="228.80" font-size="7.9" fill="#231f20" text-anchor="end" transform="rotate(-45 488.50 228.80)" style="stroke:#231f20;stroke-width:0.07">+DPT</text>
<path d="M468.1,244.6 L468.1,248.2 L489.9,248.2 L489.9,244.6" fill="none" stroke="#231f20" stroke-width="1" />
<text x="478.00" y="256.70" font-size="7.2" fill="#231f20" text-anchor="middle" textLength="18.4" lengthAdjust="spacingAndGlyphs" style="stroke:#231f20;stroke-width:0.07">+TNF</text>
<text x="41.20" y="269.50" font-size="11" fill="#111" font-weight="bold" style="stroke:#111;stroke-width:0.07">E</text>
<path d="M56.70,268.80 L56.70,349.00 L126.10,349.00 L126.10,268.80" fill="none" stroke="#333" stroke-width="1.3" stroke-linejoin="miter"/>
<text x="60.90" y="274.60" font-size="6.9" fill="#2a2a2a" textLength="18.3" lengthAdjust="spacingAndGlyphs" style="stroke:#2a2a2a;stroke-width:0.04">Steps</text>
<text x="60.90" y="282.70" font-size="6.1" fill="#2a2a2a" textLength="48.0" lengthAdjust="spacingAndGlyphs" style="stroke:none">1. Endothelial cells</text>
<text x="60.90" y="288.60" font-size="6.1" fill="#2a2a2a" textLength="26.5" lengthAdjust="spacingAndGlyphs" style="stroke:none">2. +/– TNF</text>
<text x="60.90" y="294.80" font-size="6.1" fill="#2a2a2a" textLength="23.5" lengthAdjust="spacingAndGlyphs" style="stroke:none">3. HSPC</text>
<text x="60.90" y="301.00" font-size="6.1" fill="#2a2a2a" textLength="28.6" lengthAdjust="spacingAndGlyphs" style="stroke:none">4. +/– DPT</text>
<text x="54.00" y="330.30" font-size="7.0" fill="#3cb0e6" text-anchor="end" textLength="15.3" lengthAdjust="spacingAndGlyphs" style="stroke:#3cb0e6;stroke-width:0.12">Cells</text>
<text x="54.20" y="338.20" font-size="7.0" fill="#d2234a" text-anchor="end" textLength="27.0" lengthAdjust="spacingAndGlyphs" style="stroke:#d2234a;stroke-width:0.12">+/– DPT</text>
<text x="54.00" y="345.50" font-size="7.0" fill="#3fb34f" text-anchor="end" textLength="29.0" lengthAdjust="spacingAndGlyphs" style="stroke:#3fb34f;stroke-width:0.12">HDMECs</text>
<ellipse cx="68.00" cy="346.70" rx="11.00" ry="1.35" fill="#3cb84a" stroke="#1e4a8a" stroke-width="0.5"/>
<ellipse cx="86.90" cy="346.70" rx="7.80" ry="1.35" fill="#3cb84a" stroke="#1e4a8a" stroke-width="0.5"/>
<ellipse cx="99.90" cy="346.70" rx="5.40" ry="1.35" fill="#3cb84a" stroke="#1e4a8a" stroke-width="0.5"/>
<ellipse cx="115.00" cy="346.70" rx="9.60" ry="1.35" fill="#3cb84a" stroke="#1e4a8a" stroke-width="0.5"/>
<ellipse cx="71.00" cy="346.80" rx="2.40" ry="0.68" fill="#7a2c8a"/>
<ellipse cx="89.10" cy="346.80" rx="2.00" ry="0.68" fill="#7a2c8a"/>
<ellipse cx="100.70" cy="346.80" rx="1.60" ry="0.68" fill="#7a2c8a"/>
<ellipse cx="118.00" cy="346.80" rx="2.30" ry="0.68" fill="#7a2c8a"/>
<use href="#dpt" transform="translate(68.70 331.00) rotate(0)"/>
<use href="#dpt" transform="translate(73.50 326.60) rotate(0)"/>
<use href="#dpt" transform="translate(100.00 324.90) rotate(0)"/>
<use href="#dpt" transform="translate(110.60 324.20) rotate(0)"/>
<use href="#dpt" transform="translate(103.30 332.40) rotate(0)"/>
<use href="#dpt" transform="translate(67.30 343.70) rotate(0)"/>
<use href="#dpt" transform="translate(81.00 343.70) rotate(0)"/>
<use href="#dpt" transform="translate(85.00 343.70) rotate(0)"/>
<use href="#dpt" transform="translate(89.60 344.70) rotate(0)"/>
<use href="#dpt" transform="translate(113.40 343.70) rotate(0)"/>
<use href="#cell" x="81.70" y="317.30"/>
<use href="#cell" x="93.20" y="323.00"/>
<use href="#cell" x="113.40" y="314.80"/>
<use href="#cell" x="84.60" y="328.80"/>
<use href="#cell" x="89.20" y="338.20"/>
<use href="#cell" x="62.20" y="342.20"/>
<use href="#cell" x="70.20" y="342.20"/>
<use href="#cell" x="76.90" y="341.80"/>
<use href="#cell" x="94.20" y="344.20"/>
<use href="#cell" x="99.40" y="342.20"/>
<use href="#cell" x="103.30" y="346.10"/>
<use href="#cell" x="106.70" y="341.40"/>
<use href="#cell" x="114.50" y="338.90"/>
<text x="91.30" y="360.00" font-size="8.2" fill="#231f20" text-anchor="middle" textLength="49" lengthAdjust="spacingAndGlyphs" style="stroke:#231f20;stroke-width:0.18">Cell release assay</text>
<line x1="171.50" y1="283.70" x2="171.50" y2="351.20" stroke="#231f20" stroke-width="1.2"/>
<line x1="169.30" y1="284.20" x2="171.50" y2="284.20" stroke="#231f20" stroke-width="1.2"/>
<text x="167.70" y="286.70" font-size="7.4" fill="#231f20" text-anchor="end" textLength="13.2" lengthAdjust="spacingAndGlyphs" style="stroke:#231f20;stroke-width:0.07">150</text>
<line x1="169.30" y1="306.00" x2="171.50" y2="306.00" stroke="#231f20" stroke-width="1.2"/>
<text x="167.70" y="308.50" font-size="7.4" fill="#231f20" text-anchor="end" textLength="13.2" lengthAdjust="spacingAndGlyphs" style="stroke:#231f20;stroke-width:0.07">100</text>
<line x1="169.30" y1="327.80" x2="171.50" y2="327.80" stroke="#231f20" stroke-width="1.2"/>
<text x="167.70" y="330.30" font-size="7.4" fill="#231f20" text-anchor="end" textLength="8.8" lengthAdjust="spacingAndGlyphs" style="stroke:#231f20;stroke-width:0.07">50</text>
<line x1="169.30" y1="349.60" x2="171.50" y2="349.60" stroke="#231f20" stroke-width="1.2"/>
<text x="167.70" y="352.10" font-size="7.4" fill="#231f20" text-anchor="end" style="stroke:#231f20;stroke-width:0.07">0</text>
<line x1="169.74" y1="295.10" x2="171.50" y2="295.10" stroke="#231f20" stroke-width="1.2"/>
<line x1="169.74" y1="316.90" x2="171.50" y2="316.90" stroke="#231f20" stroke-width="1.2"/>
<line x1="169.74" y1="338.70" x2="171.50" y2="338.70" stroke="#231f20" stroke-width="1.2"/>
<line x1="171.00" y1="349.60" x2="249.00" y2="349.60" stroke="#231f20" stroke-width="1.2"/>
<line x1="181.70" y1="349.60" x2="181.70" y2="351.80" stroke="#231f20" stroke-width="1.2"/>
<line x1="196.10" y1="349.60" x2="196.10" y2="351.80" stroke="#231f20" stroke-width="1.2"/>
<line x1="210.70" y1="349.60" x2="210.70" y2="351.80" stroke="#231f20" stroke-width="1.2"/>
<line x1="225.10" y1="349.60" x2="225.10" y2="351.80" stroke="#231f20" stroke-width="1.2"/>
<line x1="239.90" y1="349.60" x2="239.90" y2="351.80" stroke="#231f20" stroke-width="1.2"/>
<text x="180.30" y="360.60" font-size="7.3" fill="#231f20" text-anchor="middle" textLength="14.2" lengthAdjust="spacingAndGlyphs" style="stroke:#231f20;stroke-width:0.07">BSA</text>
<text x="196.30" y="360.60" font-size="7.3" fill="#231f20" text-anchor="middle" textLength="14.6" lengthAdjust="spacingAndGlyphs" style="stroke:#231f20;stroke-width:0.07">1.25</text>
<text x="210.70" y="360.60" font-size="7.3" fill="#231f20" text-anchor="middle" textLength="10.5" lengthAdjust="spacingAndGlyphs" style="stroke:#231f20;stroke-width:0.07">2.5</text>
<text x="225.30" y="360.60" font-size="7.3" fill="#231f20" text-anchor="middle" style="stroke:#231f20;stroke-width:0.07">5</text>
<text x="240.00" y="360.60" font-size="7.3" fill="#231f20" text-anchor="middle" style="stroke:#231f20;stroke-width:0.07">10</text>
<text x="210.80" y="371.40" font-size="8.2" fill="#231f20" text-anchor="middle" textLength="34" lengthAdjust="spacingAndGlyphs" style="stroke:#231f20;stroke-width:0.12">µg/mL rDPT</text>
<line x1="181.70" y1="297.70" x2="181.70" y2="315.40" stroke="#17599a" stroke-width="1.1"/>
<line x1="178.50" y1="297.70" x2="184.90" y2="297.70" stroke="#17599a" stroke-width="1.1"/>
<line x1="178.50" y1="315.40" x2="184.90" y2="315.40" stroke="#17599a" stroke-width="1.1"/>
<line x1="176.90" y1="306.20" x2="186.50" y2="306.20" stroke="#17599a" stroke-width="1.1"/>
<circle cx="181.70" cy="291.30" r="1.35" fill="#17599a"/>
<circle cx="177.50" cy="306.20" r="1.35" fill="#17599a"/>
<circle cx="181.70" cy="303.80" r="1.35" fill="#17599a"/>
<circle cx="185.60" cy="306.20" r="1.35" fill="#17599a"/>
<circle cx="181.70" cy="312.50" r="1.35" fill="#17599a"/>
<circle cx="181.70" cy="318.30" r="1.35" fill="#17599a"/>
<line x1="196.20" y1="298.00" x2="196.20" y2="308.70" stroke="#c8102e" stroke-width="1.1"/>
<line x1="193.00" y1="298.00" x2="199.40" y2="298.00" stroke="#c8102e" stroke-width="1.1"/>
<line x1="193.00" y1="308.70" x2="199.40" y2="308.70" stroke="#c8102e" stroke-width="1.1"/>
<line x1="191.40" y1="303.50" x2="201.00" y2="303.50" stroke="#c8102e" stroke-width="1.1"/>
<circle cx="193.80" cy="297.70" r="1.35" fill="#c8102e"/>
<circle cx="199.00" cy="297.10" r="1.35" fill="#c8102e"/>
<circle cx="196.20" cy="302.00" r="1.35" fill="#c8102e"/>
<circle cx="196.20" cy="306.70" r="1.35" fill="#c8102e"/>
<circle cx="196.20" cy="310.60" r="1.35" fill="#c8102e"/>
<circle cx="200.00" cy="303.80" r="1.35" fill="#c8102e"/>
<line x1="211.20" y1="300.50" x2="211.20" y2="307.00" stroke="#c8102e" stroke-width="1.1"/>
<line x1="208.00" y1="300.50" x2="214.40" y2="300.50" stroke="#c8102e" stroke-width="1.1"/>
<line x1="208.00" y1="307.00" x2="214.40" y2="307.00" stroke="#c8102e" stroke-width="1.1"/>
<line x1="206.40" y1="303.80" x2="216.00" y2="303.80" stroke="#c8102e" stroke-width="1.1"/>
<circle cx="211.20" cy="299.60" r="1.35" fill="#c8102e"/>
<circle cx="207.70" cy="303.80" r="1.35" fill="#c8102e"/>
<circle cx="215.40" cy="305.40" r="1.35" fill="#c8102e"/>
<circle cx="211.20" cy="306.70" r="1.35" fill="#c8102e"/>
<circle cx="211.20" cy="308.70" r="1.35" fill="#c8102e"/>
<circle cx="213.60" cy="303.20" r="1.35" fill="#c8102e"/>
<line x1="225.40" y1="312.50" x2="225.40" y2="320.20" stroke="#c8102e" stroke-width="1.1"/>
<line x1="222.20" y1="312.50" x2="228.60" y2="312.50" stroke="#c8102e" stroke-width="1.1"/>
<line x1="222.20" y1="320.20" x2="228.60" y2="320.20" stroke="#c8102e" stroke-width="1.1"/>
<line x1="220.60" y1="316.00" x2="230.20" y2="316.00" stroke="#c8102e" stroke-width="1.1"/>
<circle cx="221.20" cy="311.50" r="1.35" fill="#c8102e"/>
<circle cx="226.00" cy="313.50" r="1.35" fill="#c8102e"/>
<circle cx="222.10" cy="317.30" r="1.35" fill="#c8102e"/>
<circle cx="228.80" cy="318.30" r="1.35" fill="#c8102e"/>
<circle cx="221.20" cy="320.20" r="1.35" fill="#c8102e"/>
<circle cx="226.00" cy="320.20" r="1.35" fill="#c8102e"/>
<line x1="240.00" y1="319.50" x2="240.00" y2="322.80" stroke="#c8102e" stroke-width="1.1"/>
<line x1="236.80" y1="319.50" x2="243.20" y2="319.50" stroke="#c8102e" stroke-width="1.1"/>
<line x1="236.80" y1="322.80" x2="243.20" y2="322.80" stroke="#c8102e" stroke-width="1.1"/>
<line x1="235.20" y1="321.20" x2="244.80" y2="321.20" stroke="#c8102e" stroke-width="1.1"/>
<circle cx="235.60" cy="320.80" r="1.35" fill="#c8102e"/>
<circle cx="239.40" cy="321.20" r="1.35" fill="#c8102e"/>
<circle cx="243.80" cy="321.50" r="1.35" fill="#c8102e"/>
<circle cx="237.50" cy="322.70" r="1.35" fill="#c8102e"/>
<circle cx="242.00" cy="322.50" r="1.35" fill="#c8102e"/>
<circle cx="240.50" cy="319.80" r="1.35" fill="#c8102e"/>
<text x="226.00" y="311.40" font-size="8.6" fill="#231f20" text-anchor="middle" style="stroke:#231f20;stroke-width:0.25">*</text>
<text x="240.00" y="318.10" font-size="8.6" fill="#231f20" text-anchor="middle" style="stroke:#231f20;stroke-width:0.25">*</text>
<text x="150.80" y="317.20" font-size="8.6" fill="#231f20" text-anchor="middle" textLength="65.3" lengthAdjust="spacingAndGlyphs" transform="rotate(-90 150.80 317.20)" style="stroke:#231f20;stroke-width:0.12">Relative adherence (%)</text>
<text x="300.60" y="269.50" font-size="11" fill="#111" font-weight="bold" style="stroke:#111;stroke-width:0.07">F</text>
<text x="342.30" y="278.70" font-size="7.6" fill="#333" text-anchor="middle" textLength="52.7" lengthAdjust="spacingAndGlyphs" style="stroke:#333;stroke-width:0.07">Lineage positive</text>
<text x="400.60" y="278.70" font-size="7.6" fill="#333" text-anchor="middle" textLength="55.3" lengthAdjust="spacingAndGlyphs" style="stroke:#333;stroke-width:0.07">Lineage negative</text>
<line x1="328.90" y1="291.20" x2="328.90" y2="355.80" stroke="#231f20" stroke-width="1.2"/>
<line x1="326.70" y1="291.70" x2="328.90" y2="291.70" stroke="#231f20" stroke-width="1.2"/>
<text x="325.10" y="294.20" font-size="7.4" fill="#231f20" text-anchor="end" textLength="13.2" lengthAdjust="spacingAndGlyphs" style="stroke:#231f20;stroke-width:0.07">150</text>
<line x1="326.70" y1="312.50" x2="328.90" y2="312.50" stroke="#231f20" stroke-width="1.2"/>
<text x="325.10" y="315.00" font-size="7.4" fill="#231f20" text-anchor="end" textLength="13.2" lengthAdjust="spacingAndGlyphs" style="stroke:#231f20;stroke-width:0.07">100</text>
<line x1="326.70" y1="333.40" x2="328.90" y2="333.40" stroke="#231f20" stroke-width="1.2"/>
<text x="325.10" y="335.90" font-size="7.4" fill="#231f20" text-anchor="end" textLength="8.8" lengthAdjust="spacingAndGlyphs" style="stroke:#231f20;stroke-width:0.07">50</text>
<line x1="326.70" y1="354.20" x2="328.90" y2="354.20" stroke="#231f20" stroke-width="1.2"/>
<text x="325.10" y="356.70" font-size="7.4" fill="#231f20" text-anchor="end" style="stroke:#231f20;stroke-width:0.07">0</text>
<line x1="327.14" y1="302.10" x2="328.90" y2="302.10" stroke="#231f20" stroke-width="1.2"/>
<line x1="327.14" y1="322.90" x2="328.90" y2="322.90" stroke="#231f20" stroke-width="1.2"/>
<line x1="327.14" y1="343.80" x2="328.90" y2="343.80" stroke="#231f20" stroke-width="1.2"/>
<line x1="328.40" y1="354.20" x2="413.50" y2="354.20" stroke="#231f20" stroke-width="1.2"/>
<line x1="342.70" y1="354.20" x2="342.70" y2="356.40" stroke="#231f20" stroke-width="1.2"/>
<line x1="360.50" y1="354.20" x2="360.50" y2="356.40" stroke="#231f20" stroke-width="1.2"/>
<line x1="382.60" y1="354.20" x2="382.60" y2="356.40" stroke="#231f20" stroke-width="1.2"/>
<line x1="400.40" y1="354.20" x2="400.40" y2="356.40" stroke="#231f20" stroke-width="1.2"/>
<text x="342.10" y="365.00" font-size="7.6" fill="#231f20" text-anchor="middle" textLength="15" lengthAdjust="spacingAndGlyphs" style="stroke:#231f20;stroke-width:0.07">BSA</text>
<text x="361.50" y="365.00" font-size="7.6" fill="#231f20" text-anchor="middle" textLength="19" lengthAdjust="spacingAndGlyphs" style="stroke:#231f20;stroke-width:0.07">+DPT</text>
<text x="382.50" y="365.00" font-size="7.6" fill="#231f20" text-anchor="middle" textLength="15" lengthAdjust="spacingAndGlyphs" style="stroke:#231f20;stroke-width:0.07">BSA</text>
<text x="402.20" y="365.00" font-size="7.6" fill="#231f20" text-anchor="middle" textLength="19.5" lengthAdjust="spacingAndGlyphs" style="stroke:#231f20;stroke-width:0.07">+DPT</text>
<line x1="372.0" y1="292.0" x2="372.0" y2="354.0" stroke="#3a3a3a" stroke-width="0.9" stroke-dasharray="0.9 0.8"/>
<text x="334.10" y="298.00" font-size="5.9" fill="#231f20" textLength="29.9" lengthAdjust="spacingAndGlyphs" style="stroke:none">p = 0.0006</text>
<path d="M344.00,302.40 L344.00,300.10 L361.00,300.10 L361.00,302.40" fill="none" stroke="#231f20" stroke-width="1.0" />
<text x="369.50" y="287.30" font-size="5.9" fill="#231f20" textLength="30.3" lengthAdjust="spacingAndGlyphs" style="stroke:none">p = 0.0003</text>
<path d="M361.00,292.00 L361.00,289.80 L400.30,289.80 L400.30,292.00" fill="none" stroke="#231f20" stroke-width="1.0" />
<text x="373.80" y="297.70" font-size="5.9" fill="#231f20" textLength="27.4" lengthAdjust="spacingAndGlyphs" style="stroke:none">p = 0.002</text>
<path d="M382.50,302.90 L382.50,300.70 L400.30,300.70 L400.30,302.90" fill="none" stroke="#231f20" stroke-width="1.0" />
<line x1="343.40" y1="310.00" x2="343.40" y2="313.20" stroke="#17599a" stroke-width="1.1"/>
<line x1="340.00" y1="310.00" x2="346.80" y2="310.00" stroke="#17599a" stroke-width="1.1"/>
<line x1="340.00" y1="313.20" x2="346.80" y2="313.20" stroke="#17599a" stroke-width="1.1"/>
<line x1="336.90" y1="311.60" x2="349.90" y2="311.60" stroke="#17599a" stroke-width="1.1"/>
<circle cx="339.30" cy="310.20" r="1.35" fill="#17599a"/>
<circle cx="341.80" cy="311.60" r="1.35" fill="#17599a"/>
<circle cx="344.90" cy="311.30" r="1.35" fill="#17599a"/>
<circle cx="348.00" cy="311.90" r="1.35" fill="#17599a"/>
<circle cx="344.20" cy="313.00" r="1.35" fill="#17599a"/>
<circle cx="339.80" cy="312.50" r="1.35" fill="#17599a"/>
<circle cx="346.50" cy="310.00" r="1.35" fill="#17599a"/>
<line x1="360.60" y1="315.60" x2="360.60" y2="318.80" stroke="#c8102e" stroke-width="1.1"/>
<line x1="357.20" y1="315.60" x2="364.00" y2="315.60" stroke="#c8102e" stroke-width="1.1"/>
<line x1="357.20" y1="318.80" x2="364.00" y2="318.80" stroke="#c8102e" stroke-width="1.1"/>
<line x1="354.60" y1="317.10" x2="366.60" y2="317.10" stroke="#c8102e" stroke-width="1.1"/>
<circle cx="354.90" cy="316.20" r="1.35" fill="#c8102e"/>
<circle cx="358.90" cy="315.70" r="1.35" fill="#c8102e"/>
<circle cx="363.50" cy="315.70" r="1.35" fill="#c8102e"/>
<circle cx="366.10" cy="317.10" r="1.35" fill="#c8102e"/>
<circle cx="360.60" cy="318.80" r="1.35" fill="#c8102e"/>
<circle cx="360.60" cy="322.30" r="1.35" fill="#c8102e"/>
<circle cx="357.00" cy="317.80" r="1.35" fill="#c8102e"/>
<line x1="382.80" y1="304.60" x2="382.80" y2="318.50" stroke="#17599a" stroke-width="1.1"/>
<line x1="379.50" y1="304.60" x2="386.10" y2="304.60" stroke="#17599a" stroke-width="1.1"/>
<line x1="379.50" y1="318.50" x2="386.10" y2="318.50" stroke="#17599a" stroke-width="1.1"/>
<line x1="375.50" y1="311.60" x2="390.10" y2="311.60" stroke="#17599a" stroke-width="1.1"/>
<circle cx="380.40" cy="304.10" r="1.35" fill="#17599a"/>
<circle cx="385.60" cy="303.30" r="1.35" fill="#17599a"/>
<circle cx="385.60" cy="311.90" r="1.35" fill="#17599a"/>
<circle cx="380.40" cy="314.50" r="1.35" fill="#17599a"/>
<circle cx="381.60" cy="318.00" r="1.35" fill="#17599a"/>
<circle cx="385.60" cy="318.00" r="1.35" fill="#17599a"/>
<line x1="400.30" y1="320.60" x2="400.30" y2="323.20" stroke="#c8102e" stroke-width="1.1"/>
<line x1="396.90" y1="320.60" x2="403.70" y2="320.60" stroke="#c8102e" stroke-width="1.1"/>
<line x1="396.90" y1="323.20" x2="403.70" y2="323.20" stroke="#c8102e" stroke-width="1.1"/>
<line x1="394.30" y1="321.90" x2="406.30" y2="321.90" stroke="#c8102e" stroke-width="1.1"/>
<circle cx="393.70" cy="321.40" r="1.35" fill="#c8102e"/>
<circle cx="397.20" cy="322.20" r="1.35" fill="#c8102e"/>
<circle cx="401.50" cy="321.40" r="1.35" fill="#c8102e"/>
<circle cx="406.40" cy="320.20" r="1.35" fill="#c8102e"/>
<circle cx="406.40" cy="323.10" r="1.35" fill="#c8102e"/>
<circle cx="400.10" cy="325.40" r="1.35" fill="#c8102e"/>
<circle cx="396.00" cy="323.60" r="1.35" fill="#c8102e"/>
<text x="306.30" y="322.50" font-size="8.6" fill="#231f20" text-anchor="middle" textLength="66.1" lengthAdjust="spacingAndGlyphs" transform="rotate(-90 306.30 322.50)" style="stroke:#231f20;stroke-width:0.12">Relative adherence (%)</text>
<text x="42.50" y="388.90" font-size="11" fill="#111" font-weight="bold" style="stroke:#111;stroke-width:0.07">G</text>
<path d="M57.4,387.4 L96.4,408.7 L249.8,408.7 L292.6,386.6 L292.6,405.6 L251.8,426.5 L99.0,426.5 L90.4,425.8 L57.4,408.3 Z" fill="#f4dce9" stroke="none" stroke-width="1" />
<path d="M57.4,387.4 L96.4,408.7 L249.8,408.7 L292.6,386.6" fill="none" stroke="#2e2e2e" stroke-width="1.1" />
<path d="M57.4,408.3 L90.4,425.8 Q92,426.5 94,426.5 L99,426.5" fill="none" stroke="#2e2e2e" stroke-width="1.1" />
<path d="M292.6,405.6 L251.8,426.5" fill="none" stroke="#2e2e2e" stroke-width="1.1" />
<path d="M57.4,444.6 L71.5,444.6 L99.1,426.6 L251.8,426.6 L282.4,444.8 L292.6,444.8 L292.6,463.8 L282.4,463.8 L251.8,481.6 L99.1,481.6 L71.5,463.4 L57.4,463.4 Z" fill="#8b8b8b" stroke="none" stroke-width="1" />
<path d="M57.4,444.6 L71.5,444.6 L99.1,426.6" fill="none" stroke="#2e2e2e" stroke-width="1.1" />
<path d="M57.4,463.4 L71.5,463.4 L99.1,481.6" fill="none" stroke="#2e2e2e" stroke-width="1.1" />
<path d="M292.6,444.8 L282.4,444.8 L251.8,426.6" fill="none" stroke="#2e2e2e" stroke-width="1.1" />
<path d="M292.6,463.8 L282.4,463.8 L251.8,481.6" fill="none" stroke="#2e2e2e" stroke-width="1.1" />
<line x1="99.10" y1="426.40" x2="113.00" y2="426.40" stroke="#2e2e2e" stroke-width="0.9"/>
<line x1="113.00" y1="426.50" x2="156.40" y2="426.50" stroke="#f4f0f2" stroke-width="0.6"/>
<path d="M57.4,500.3 L93.1,481.6 L251.8,481.6 L292.6,501.6 L292.6,522.0 L249.8,498.6 L96.9,498.6 L57.4,521.2 Z" fill="#b97cc2" stroke="none" stroke-width="1" />
<path d="M57.4,500.3 L93.1,481.6 L99,481.6" fill="none" stroke="#2e2e2e" stroke-width="1.1" />
<path d="M57.4,521.2 L96.9,498.6 L249.8,498.6 L292.6,522.0" fill="none" stroke="#2e2e2e" stroke-width="1.1" />
<path d="M251.8,481.6 L292.6,501.6" fill="none" stroke="#2e2e2e" stroke-width="1.1" />
<rect x="156.4" y="408.7" width="32.7" height="89.0" fill="url(#mg)"/>
<rect x="200.2" y="480.4" width="33.4" height="17.3" fill="#9a9a9a"/>
<rect x="200.2" y="408.7" width="33.4" height="71.8" fill="#f06666"/>
<path d="M123.0,426.6 L131.8,426.6 L130.0,429.8 L124.8,429.8 Z" fill="#1d1d1d" stroke="none" stroke-width="1" />
<path d="M142.4,426.6 L151.2,426.6 L149.4,429.8 L144.2,429.8 Z" fill="#1d1d1d" stroke="none" stroke-width="1" />
<path d="M203.6,426.6 L213.6,426.6 L211.6,432.0 L205.6,432.0 Z" fill="#3a3a3a" stroke="none" stroke-width="1" />
<path d="M221.4,426.6 L231.4,426.6 L229.4,432.0 L223.4,432.0 Z" fill="#3a3a3a" stroke="none" stroke-width="1" />
<path d="M127.5,478.0 L132.7,478.0 L134.3,481.4 L125.9,481.4 Z" fill="#1d1d1d" stroke="none" stroke-width="1" />
<path d="M146.4,478.0 L151.6,478.0 L153.2,481.4 L144.8,481.4 Z" fill="#1d1d1d" stroke="none" stroke-width="1" />
<path d="M205.2,474.2 L211.2,474.2 L213.2,480.4 L203.2,480.4 Z" fill="#6e6e6e" stroke="none" stroke-width="1" />
<path d="M223.2,474.2 L229.2,474.2 L231.2,480.4 L221.2,480.4 Z" fill="#6e6e6e" stroke="none" stroke-width="1" />
<path d="M164.4,425.6 L174.5,425.6 L172.1,432.4 L167.8,432.4 Z" fill="none" stroke="#3a3a3a" stroke-width="0.65" />
<path d="M181.3,425.6 L189.4,425.6 L188.5,432.2 L183.7,432.2 Z" fill="none" stroke="#3a3a3a" stroke-width="0.65" />
<path d="M164.5,481.2 L171.0,466.5 L177.5,481.2 Z M167.5,480 L171.0,472.5 L174.5,480" fill="none" stroke="#3a3a3a" stroke-width="0.6" />
<path d="M180.5,481.2 L184.5,474.0 L189.2,474.5" fill="none" stroke="#3a3a3a" stroke-width="0.6" />
<path d="M156.7,429 L159.6,423.8 L165.4,425.2 L173.6,423.8 L178.8,422.3 L182.2,419.4 L185.1,415.6" fill="none" stroke="#3a3a3a" stroke-width="0.5" />
<circle cx="158.5" cy="481.0" r="0.7" fill="#3cc43c"/>
<circle cx="162.5" cy="480.2" r="0.7" fill="#3cc43c"/>
<circle cx="176.6" cy="480.5" r="0.7" fill="#3cc43c"/>
<circle cx="180.6" cy="481.2" r="0.7" fill="#3cc43c"/>
<circle cx="184.0" cy="479.5" r="0.7" fill="#3cc43c"/>
<circle cx="175.5" cy="471.5" r="0.7" fill="#3cc43c"/>
<circle cx="161.5" cy="476.2" r="0.7" fill="#3cc43c"/>
<ellipse cx="96.6" cy="482.7" rx="3.0" ry="1.2" fill="#f0a030" stroke="#e8901a" stroke-width="0.6"/>
<ellipse cx="96.6" cy="482.7" rx="1.5" ry="0.6" fill="#2a5a9a"/>
<ellipse cx="102.8" cy="482.7" rx="3.0" ry="1.2" fill="#f0a030" stroke="#e8901a" stroke-width="0.6"/>
<ellipse cx="102.8" cy="482.7" rx="1.5" ry="0.6" fill="#2a5a9a"/>
<ellipse cx="109.0" cy="482.7" rx="3.0" ry="1.2" fill="#f0a030" stroke="#e8901a" stroke-width="0.6"/>
<ellipse cx="109.0" cy="482.7" rx="1.5" ry="0.6" fill="#2a5a9a"/>
<ellipse cx="115.2" cy="482.7" rx="3.0" ry="1.2" fill="#f0a030" stroke="#e8901a" stroke-width="0.6"/>
<ellipse cx="115.2" cy="482.7" rx="1.5" ry="0.6" fill="#2a5a9a"/>
<ellipse cx="121.4" cy="482.7" rx="3.0" ry="1.2" fill="#f0a030" stroke="#e8901a" stroke-width="0.6"/>
<ellipse cx="121.4" cy="482.7" rx="1.5" ry="0.6" fill="#2a5a9a"/>
<ellipse cx="127.6" cy="482.7" rx="3.0" ry="1.2" fill="#f0a030" stroke="#e8901a" stroke-width="0.6"/>
<ellipse cx="127.6" cy="482.7" rx="1.5" ry="0.6" fill="#2a5a9a"/>
<ellipse cx="133.8" cy="482.7" rx="3.0" ry="1.2" fill="#f0a030" stroke="#e8901a" stroke-width="0.6"/>
<ellipse cx="133.8" cy="482.7" rx="1.5" ry="0.6" fill="#2a5a9a"/>
<ellipse cx="140.0" cy="482.7" rx="3.0" ry="1.2" fill="#f0a030" stroke="#e8901a" stroke-width="0.6"/>
<ellipse cx="140.0" cy="482.7" rx="1.5" ry="0.6" fill="#2a5a9a"/>
<ellipse cx="146.2" cy="482.7" rx="3.0" ry="1.2" fill="#f0a030" stroke="#e8901a" stroke-width="0.6"/>
<ellipse cx="146.2" cy="482.7" rx="1.5" ry="0.6" fill="#2a5a9a"/>
<ellipse cx="152.4" cy="482.7" rx="3.0" ry="1.2" fill="#f0a030" stroke="#e8901a" stroke-width="0.6"/>
<ellipse cx="152.4" cy="482.7" rx="1.5" ry="0.6" fill="#2a5a9a"/>
<ellipse cx="192.2" cy="482.7" rx="3.0" ry="1.2" fill="#f0a030" stroke="#e8901a" stroke-width="0.6"/>
<ellipse cx="192.2" cy="482.7" rx="1.5" ry="0.6" fill="#2a5a9a"/>
<ellipse cx="198.4" cy="482.7" rx="3.0" ry="1.2" fill="#f0a030" stroke="#e8901a" stroke-width="0.6"/>
<ellipse cx="198.4" cy="482.7" rx="1.5" ry="0.6" fill="#2a5a9a"/>
<ellipse cx="236.7" cy="482.7" rx="3.0" ry="1.2" fill="#f0a030" stroke="#e8901a" stroke-width="0.6"/>
<ellipse cx="236.7" cy="482.7" rx="1.5" ry="0.6" fill="#2a5a9a"/>
<ellipse cx="242.9" cy="482.7" rx="3.0" ry="1.2" fill="#f0a030" stroke="#e8901a" stroke-width="0.6"/>
<ellipse cx="242.9" cy="482.7" rx="1.5" ry="0.6" fill="#2a5a9a"/>
<ellipse cx="249.1" cy="482.7" rx="3.0" ry="1.2" fill="#f0a030" stroke="#e8901a" stroke-width="0.6"/>
<ellipse cx="249.1" cy="482.7" rx="1.5" ry="0.6" fill="#2a5a9a"/>
<ellipse cx="100.6" cy="497.5" rx="3.0" ry="1.2" fill="#f0a030" stroke="#e8901a" stroke-width="0.6"/>
<ellipse cx="100.6" cy="497.5" rx="1.5" ry="0.6" fill="#2a5a9a"/>
<ellipse cx="106.8" cy="497.5" rx="3.0" ry="1.2" fill="#f0a030" stroke="#e8901a" stroke-width="0.6"/>
<ellipse cx="106.8" cy="497.5" rx="1.5" ry="0.6" fill="#2a5a9a"/>
<ellipse cx="113.0" cy="497.5" rx="3.0" ry="1.2" fill="#f0a030" stroke="#e8901a" stroke-width="0.6"/>
<ellipse cx="113.0" cy="497.5" rx="1.5" ry="0.6" fill="#2a5a9a"/>
<ellipse cx="119.2" cy="497.5" rx="3.0" ry="1.2" fill="#f0a030" stroke="#e8901a" stroke-width="0.6"/>
<ellipse cx="119.2" cy="497.5" rx="1.5" ry="0.6" fill="#2a5a9a"/>
<ellipse cx="125.4" cy="497.5" rx="3.0" ry="1.2" fill="#f0a030" stroke="#e8901a" stroke-width="0.6"/>
<ellipse cx="125.4" cy="497.5" rx="1.5" ry="0.6" fill="#2a5a9a"/>
<ellipse cx="131.6" cy="497.5" rx="3.0" ry="1.2" fill="#f0a030" stroke="#e8901a" stroke-width="0.6"/>
<ellipse cx="131.6" cy="497.5" rx="1.5" ry="0.6" fill="#2a5a9a"/>
<ellipse cx="137.8" cy="497.5" rx="3.0" ry="1.2" fill="#f0a030" stroke="#e8901a" stroke-width="0.6"/>
<ellipse cx="137.8" cy="497.5" rx="1.5" ry="0.6" fill="#2a5a9a"/>
<ellipse cx="144.0" cy="497.5" rx="3.0" ry="1.2" fill="#f0a030" stroke="#e8901a" stroke-width="0.6"/>
<ellipse cx="144.0" cy="497.5" rx="1.5" ry="0.6" fill="#2a5a9a"/>
<ellipse cx="150.2" cy="497.5" rx="3.0" ry="1.2" fill="#f0a030" stroke="#e8901a" stroke-width="0.6"/>
<ellipse cx="150.2" cy="497.5" rx="1.5" ry="0.6" fill="#2a5a9a"/>
<ellipse cx="192.2" cy="497.5" rx="3.0" ry="1.2" fill="#f0a030" stroke="#e8901a" stroke-width="0.6"/>
<ellipse cx="192.2" cy="497.5" rx="1.5" ry="0.6" fill="#2a5a9a"/>
<ellipse cx="198.4" cy="497.5" rx="3.0" ry="1.2" fill="#f0a030" stroke="#e8901a" stroke-width="0.6"/>
<ellipse cx="198.4" cy="497.5" rx="1.5" ry="0.6" fill="#2a5a9a"/>
<ellipse cx="236.7" cy="497.5" rx="3.0" ry="1.2" fill="#f0a030" stroke="#e8901a" stroke-width="0.6"/>
<ellipse cx="236.7" cy="497.5" rx="1.5" ry="0.6" fill="#2a5a9a"/>
<ellipse cx="242.9" cy="497.5" rx="3.0" ry="1.2" fill="#f0a030" stroke="#e8901a" stroke-width="0.6"/>
<ellipse cx="242.9" cy="497.5" rx="1.5" ry="0.6" fill="#2a5a9a"/>
<line x1="111.80" y1="483.50" x2="111.80" y2="497.00" stroke="#555" stroke-width="0.6"/>
<line x1="139.00" y1="483.50" x2="139.00" y2="497.00" stroke="#555" stroke-width="0.6"/>
<line x1="104.00" y1="503.80" x2="111.50" y2="498.60" stroke="#555" stroke-width="0.5"/>
<line x1="143.50" y1="503.20" x2="139.00" y2="498.60" stroke="#555" stroke-width="0.5"/>
<text x="84.30" y="397.00" font-size="7.6" fill="#222" text-anchor="middle" transform="rotate(29 84.30 397.00)" style="stroke:#222;stroke-width:0.07">Inlet</text>
<text x="87.60" y="415.30" font-size="7.2" fill="#dc2846" textLength="16.8" lengthAdjust="spacingAndGlyphs" style="stroke:#dc2846;stroke-width:0.15">SDF-1</text>
<path d="M91,420.4 L102.5,420.4" fill="none" stroke="#e8202a" stroke-width="1.3" />
<path d="M101.2,418.3 L105.3,420.4 L101.2,422.5 Z" fill="#e8202a" stroke="none" stroke-width="1" />
<text x="173.00" y="450.00" font-size="8.0" fill="#262626" text-anchor="middle" textLength="27.2" lengthAdjust="spacingAndGlyphs" style="stroke:#262626;stroke-width:0.07">MATRIX</text>
<text x="173.00" y="458.50" font-size="8.0" fill="#262626" text-anchor="middle" textLength="25.5" lengthAdjust="spacingAndGlyphs" style="stroke:#262626;stroke-width:0.07">500 µm</text>
<text x="215.50" y="440.80" font-size="8.2" fill="#3a1616" text-anchor="middle" textLength="21.6" lengthAdjust="spacingAndGlyphs" style="stroke:#3a1616;stroke-width:0.07">SDF-1</text>
<text x="215.70" y="450.00" font-size="8.2" fill="#3a1616" text-anchor="middle" textLength="28.4" lengthAdjust="spacingAndGlyphs" style="stroke:#3a1616;stroke-width:0.07">Gradient</text>
<text x="173.20" y="489.00" font-size="7.0" fill="#2e2e2e" text-anchor="middle" textLength="16" lengthAdjust="spacingAndGlyphs" style="stroke:#2e2e2e;stroke-width:0.07">HSPC</text>
<text x="173.20" y="496.00" font-size="7.0" fill="#2e2e2e" text-anchor="middle" textLength="28" lengthAdjust="spacingAndGlyphs" style="stroke:#2e2e2e;stroke-width:0.07">Adherence</text>
<text x="73.80" y="487.00" font-size="7.6" fill="#222" text-anchor="middle" transform="rotate(-29 73.80 487.00)" style="stroke:#222;stroke-width:0.07">Inlet</text>
<text x="67.70" y="497.00" font-size="7.0" fill="#333" textLength="31.2" lengthAdjust="spacingAndGlyphs" style="stroke:#333;stroke-width:0.07">GFP HSPC</text>
<path d="M75,506.2 L84,500.9" fill="none" stroke="#44bb44" stroke-width="1.4" />
<path d="M82.2,499.0 L86.6,499.5 L84.4,503.3 Z" fill="#44bb44" stroke="none" stroke-width="1" />
<text x="93.20" y="508.70" font-size="7.6" fill="#444" textLength="70.8" lengthAdjust="spacingAndGlyphs" style="stroke:#444;stroke-width:0.07">Endothelialized lumen</text>
<text x="281.00" y="402.60" font-size="8.0" fill="#222" text-anchor="middle" transform="rotate(-27.5 281.00 402.60)" style="stroke:#222;stroke-width:0.07">Outlet</text>
<text x="280.40" y="508.60" font-size="8.0" fill="#222" text-anchor="middle" transform="rotate(27.5 280.40 508.60)" style="stroke:#222;stroke-width:0.07">Outlet</text>
<line x1="252.00" y1="410.30" x2="252.00" y2="424.80" stroke="#111" stroke-width="0.9"/>
<path d="M249.40,413.50 L252.00,409.30 L254.60,413.50 Z" fill="#111" stroke="none" stroke-width="1" />
<path d="M249.40,421.60 L252.00,425.80 L254.60,421.60 Z" fill="#111" stroke="none" stroke-width="1" />
<line x1="252.00" y1="428.20" x2="252.00" y2="479.60" stroke="#111" stroke-width="0.9"/>
<path d="M249.40,431.40 L252.00,427.20 L254.60,431.40 Z" fill="#111" stroke="none" stroke-width="1" />
<path d="M249.40,476.40 L252.00,480.60 L254.60,476.40 Z" fill="#111" stroke="none" stroke-width="1" />
<text x="255.80" y="413.60" font-size="7.4" fill="#222" textLength="12.6" lengthAdjust="spacingAndGlyphs" style="stroke:#222;stroke-width:0.07">100</text>
<text x="256.40" y="418.60" font-size="6.2" fill="#222" textLength="7.2" lengthAdjust="spacingAndGlyphs" style="stroke:#222;stroke-width:0.07">µm</text>
<text x="322.40" y="416.30" font-size="11" fill="#111" font-weight="bold" style="stroke:#111;stroke-width:0.07">H</text>
<line x1="362.90" y1="414.00" x2="362.90" y2="502.60" stroke="#231f20" stroke-width="1.2"/>
<line x1="360.70" y1="414.50" x2="362.90" y2="414.50" stroke="#231f20" stroke-width="1.2"/>
<text x="359.10" y="417.00" font-size="7.4" fill="#231f20" text-anchor="end" textLength="17.6" lengthAdjust="spacingAndGlyphs" style="stroke:#231f20;stroke-width:0.07">2000</text>
<line x1="360.70" y1="436.20" x2="362.90" y2="436.20" stroke="#231f20" stroke-width="1.2"/>
<text x="359.10" y="438.70" font-size="7.4" fill="#231f20" text-anchor="end" textLength="17.6" lengthAdjust="spacingAndGlyphs" style="stroke:#231f20;stroke-width:0.07">1500</text>
<line x1="360.70" y1="457.90" x2="362.90" y2="457.90" stroke="#231f20" stroke-width="1.2"/>
<text x="359.10" y="460.40" font-size="7.4" fill="#231f20" text-anchor="end" textLength="17.6" lengthAdjust="spacingAndGlyphs" style="stroke:#231f20;stroke-width:0.07">1000</text>
<line x1="360.70" y1="479.40" x2="362.90" y2="479.40" stroke="#231f20" stroke-width="1.2"/>
<text x="359.10" y="481.90" font-size="7.4" fill="#231f20" text-anchor="end" textLength="13.2" lengthAdjust="spacingAndGlyphs" style="stroke:#231f20;stroke-width:0.07">500</text>
<line x1="360.70" y1="501.00" x2="362.90" y2="501.00" stroke="#231f20" stroke-width="1.2"/>
<text x="359.10" y="503.50" font-size="7.4" fill="#231f20" text-anchor="end" style="stroke:#231f20;stroke-width:0.07">0</text>
<line x1="362.40" y1="501.00" x2="426.80" y2="501.00" stroke="#231f20" stroke-width="1.2"/>
<line x1="380.40" y1="501.00" x2="380.40" y2="503.20" stroke="#231f20" stroke-width="1.2"/>
<line x1="408.60" y1="501.00" x2="408.60" y2="503.20" stroke="#231f20" stroke-width="1.2"/>
<text x="380.40" y="512.30" font-size="7.6" fill="#231f20" text-anchor="middle" textLength="13.5" lengthAdjust="spacingAndGlyphs" style="stroke:#231f20;stroke-width:0.07">CTL</text>
<text x="408.60" y="512.30" font-size="7.6" fill="#231f20" text-anchor="middle" textLength="21.5" lengthAdjust="spacingAndGlyphs" style="stroke:#231f20;stroke-width:0.07">+rDPT</text>
<path d="M380.40,427.40 L380.40,422.50 L408.60,422.50 L408.60,467.40" fill="none" stroke="#231f20" stroke-width="1.0" />
<text x="394.50" y="418.70" font-size="6.4" fill="#231f20" text-anchor="middle" textLength="19.5" lengthAdjust="spacingAndGlyphs" style="stroke:#231f20;stroke-width:0.07">0.0044</text>
<line x1="380.40" y1="441.20" x2="380.40" y2="483.60" stroke="#17599a" stroke-width="1.1"/>
<line x1="375.80" y1="441.20" x2="385.00" y2="441.20" stroke="#17599a" stroke-width="1.1"/>
<line x1="375.80" y1="483.60" x2="385.00" y2="483.60" stroke="#17599a" stroke-width="1.1"/>
<line x1="371.90" y1="462.40" x2="388.90" y2="462.40" stroke="#17599a" stroke-width="1.1"/>
<circle cx="380.40" cy="432.90" r="1.35" fill="#17599a"/>
<circle cx="380.40" cy="446.20" r="1.35" fill="#17599a"/>
<circle cx="380.40" cy="454.40" r="1.35" fill="#17599a"/>
<circle cx="380.40" cy="470.40" r="1.35" fill="#17599a"/>
<circle cx="377.90" cy="486.10" r="1.35" fill="#17599a"/>
<circle cx="383.60" cy="485.30" r="1.35" fill="#17599a"/>
<circle cx="380.40" cy="483.50" r="1.35" fill="#17599a"/>
<line x1="408.60" y1="480.30" x2="408.60" y2="500.30" stroke="#c8102e" stroke-width="1.1"/>
<line x1="404.00" y1="480.30" x2="413.20" y2="480.30" stroke="#c8102e" stroke-width="1.1"/>
<line x1="404.00" y1="500.30" x2="413.20" y2="500.30" stroke="#c8102e" stroke-width="1.1"/>
<line x1="400.10" y1="490.30" x2="417.10" y2="490.30" stroke="#c8102e" stroke-width="1.1"/>
<circle cx="407.80" cy="472.40" r="1.35" fill="#c8102e"/>
<circle cx="404.80" cy="488.60" r="1.35" fill="#c8102e"/>
<circle cx="411.10" cy="489.80" r="1.35" fill="#c8102e"/>
<circle cx="402.30" cy="496.10" r="1.35" fill="#c8102e"/>
<circle cx="413.60" cy="497.30" r="1.35" fill="#c8102e"/>
<circle cx="408.60" cy="499.80" r="1.35" fill="#c8102e"/>
<circle cx="405.50" cy="499.60" r="1.35" fill="#c8102e"/>
<text x="334.60" y="457.60" font-size="8.6" fill="#231f20" text-anchor="middle" textLength="45.1" lengthAdjust="spacingAndGlyphs" transform="rotate(-90 334.60 457.60)" style="stroke:#231f20;stroke-width:0.12"># Cells adhered</text>
</svg>
</body></html>
